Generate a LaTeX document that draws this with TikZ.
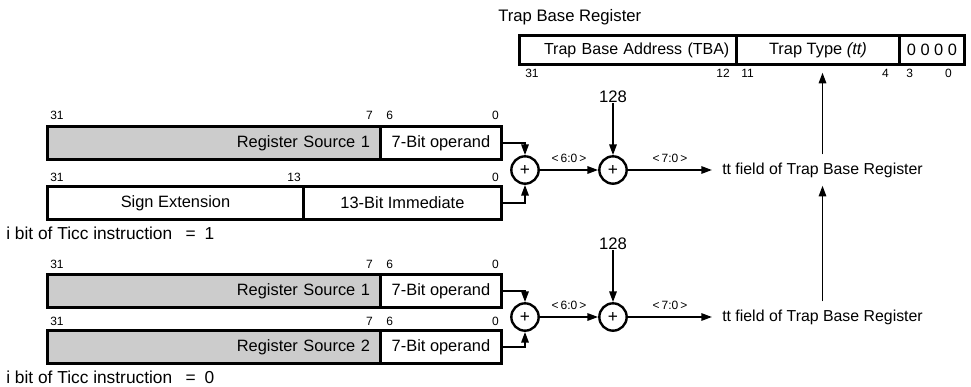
\documentclass[tikz,border=0pt]{standalone}
\usepackage{fontspec}
\setmainfont{Liberation Sans}
\usetikzlibrary{arrows.meta}
\begin{document}
\begin{tikzpicture}[x=0.75pt,y=-0.75pt,
  fld/.style={draw, line width=2.2pt, inner sep=0pt, minimum height=24.75pt, anchor=north west, font=\fontsize{12.3}{14}\selectfont},
  shd/.style={fld, fill=black!20},
  bitlab/.style={inner sep=0pt, font=\fontsize{9}{10}\selectfont},
  txt/.style={inner sep=0pt, font=\fontsize{12.5}{14}\selectfont},
  adder/.style={circle, draw, line width=1.8pt, minimum size=20.5pt, inner sep=0pt, font=\fontsize{13}{14}\selectfont},
  arr/.style={line width=1.4pt, -{Triangle[length=8pt,width=5.5pt]}},
  dest/.style={inner xsep=7.5pt, inner ysep=6pt, font=\fontsize{11.9}{14}\selectfont, anchor=west},
]
\useasboundingbox (0,0) rectangle (971,386);

% Trap Base Register
\node[txt, anchor=west] (title) at (498,17) {Trap Base Register};
\node[fld, minimum height=21.75pt, minimum width=162.75pt, text width=152pt, align=right, font=\fontsize{12}{14}\selectfont] (tba) at (518,34) {Trap Base Address (TBA)};
\node[fld, minimum height=21.75pt, minimum width=122.25pt] (tt) at (735,34) {Trap Type \textit{(tt)}};
\node[fld, minimum height=21.75pt, minimum width=48.75pt] (zr) at (898,34) {0 0 0 0};
\node[bitlab, anchor=west] (t31) at (525,73) {31};
\node[bitlab, anchor=east] (t12) at (730,73) {12};
\node[bitlab, anchor=west] (t11) at (741,73) {11};
\node[bitlab, anchor=east] (t4) at (889,73) {4};
\node[bitlab, anchor=west] (t3) at (906,73) {3};
\node[bitlab, anchor=east] (t0) at (952,73) {0};

% Upper case (i = 1)
\node[shd, minimum width=249.75pt, text width=234pt, align=right] (rs1a) at (46,125) {Register Source 1};
\node[fld, minimum width=90.75pt] (op1a) at (379,125) {7-Bit operand};
\node[bitlab, anchor=west] (a31) at (50,115) {31};
\node[bitlab, anchor=east] (a7) at (373,115) {7};
\node[bitlab, anchor=west] (a6) at (386,115) {6};
\node[bitlab, anchor=east] (a0) at (499,115) {0};

\node[fld, minimum width=192pt] (sgn) at (46,185) {Sign Extension};
\node[fld, minimum width=148.5pt] (imm) at (302,185) {13-Bit Immediate};
\node[bitlab, anchor=west] (b31) at (50,177) {31};
\node[bitlab, anchor=east] (b13) at (301,177) {13};
\node[bitlab, anchor=east] (b0) at (499,177) {0};

\node[txt, anchor=west, font=\fontsize{13}{15}\selectfont] (ibit1) at (6,233) {i bit of Ticc instruction \enspace=\enspace 1};

\node[adder] (add1) at (525,170) {+};
\node[adder] (add2) at (613,170) {+};
\node[txt] (c128a) at (613,97) {128};
\node[dest] (tt1) at (712,170) {tt field of Trap Base Register};

\draw[arr] (op1a.east) -| (add1.north);
\draw[arr] (imm.east) -| (add1.south);
\draw[arr] (add1) -- node[bitlab, above=5pt] (l60a) {<\,6:0\,>} (add2);
\draw[arr] (c128a) -- (add2);
\draw[arr] (add2) -- node[bitlab, above=5pt] (l70a) {<\,7:0\,>} (tt1);
\draw[arr, shorten >=5pt] (tt1.north) -- (tt1.north |- tt.south);

% Lower case (i = 0)
\node[shd, minimum width=249.75pt, text width=234pt, align=right] (rs1b) at (46,273) {Register Source 1};
\node[fld, minimum width=90.75pt] (op1b) at (379,273) {7-Bit operand};
\node[bitlab, anchor=west] (c31) at (50,264) {31};
\node[bitlab, anchor=east] (c7) at (373,264) {7};
\node[bitlab, anchor=west] (c6) at (386,264) {6};
\node[bitlab, anchor=east] (c0) at (499,264) {0};

\node[shd, minimum width=249.75pt, text width=234pt, align=right] (rs2) at (46,329) {Register Source 2};
\node[fld, minimum width=90.75pt] (op2) at (379,329) {7-Bit operand};
\node[bitlab, anchor=west] (d31) at (50,321) {31};
\node[bitlab, anchor=east] (d7) at (373,321) {7};
\node[bitlab, anchor=west] (d6) at (386,321) {6};
\node[bitlab, anchor=east] (d0) at (499,321) {0};

\node[txt, anchor=west, font=\fontsize{13}{15}\selectfont] (ibit0) at (6,377) {i bit of Ticc instruction \enspace=\enspace 0};

\node[adder] (add3) at (525,317) {+};
\node[adder] (add4) at (613,317) {+};
\node[txt] (c128b) at (613,244) {128};
\node[dest] (tt2) at (712,317) {tt field of Trap Base Register};

\draw[arr] (op1b.east) -| (add3.north);
\draw[arr] (op2.east) -| (add3.south);
\draw[arr] (add3) -- node[bitlab, above=5pt] (l60b) {<\,6:0\,>} (add4);
\draw[arr] (c128b) -- (add4);
\draw[arr] (add4) -- node[bitlab, above=5pt] (l70b) {<\,7:0\,>} (tt2);
\draw[arr] (tt2.north) -- (tt1.south);
\end{tikzpicture}
\end{document}
